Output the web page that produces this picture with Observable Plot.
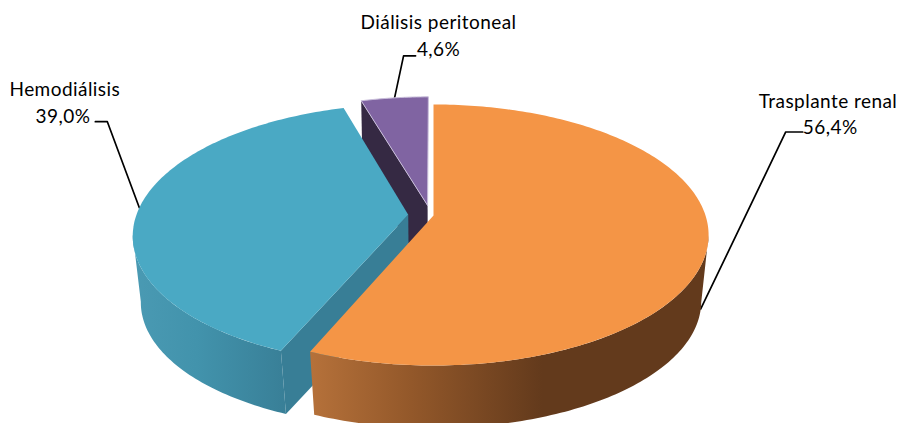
<!DOCTYPE html>
<html lang="es">
<head>
<meta charset="utf-8">
<style>html,body{margin:0;padding:0;background:#fff}svg{display:block}</style>
<script src="https://cdn.jsdelivr.net/npm/d3@7"></script>
<script src="https://cdn.jsdelivr.net/npm/@observablehq/plot@0.6"></script>
</head>
<body>
<div id="chart"></div>
<script>
// Data
const categories = ["Trasplante renal", "Hemodiálisis", "Diálisis peritoneal"];
const shares = [56.4, 39.0, 4.6];

// Slice styling
const topColors = ["#f49546", "#4aa9c4", "#8064a2"];
const wallFills = ["url(#wallOrange)", "url(#wallBlue)", "none"];
const faceColors = ["none", "#387e96", "#352943"];
const explodeU = [0, -0.093, -0.022];
const explodeV = [0, 0.005, 0.08];
const wallStart = [98.6, null, null];
const wallEnd = [null, 261.4, null];

// Label layout (offsets from the rim anchor of each slice)
const elbowDx = [85, -32, 9];
const elbowDy = [-177, -86, -42];
const stubDx = [17, -12, 12];
const nameDx = [-44, -30.5, 23];
const nameDy = [-30, -32, -33];
const pctDx = [0, -5, 23];
const pctDy = [-4, -5, -6];
const pctAnchor = ["start", "end", "middle"];
const nameAnchor = ["start", "middle", "middle"];

// Projection of the pie disc
const W = 902, H = 423;
const topPlane = {cx: 433, cy: 215, a: 272, b: 127.6, k: 0.1494};
const basePlane = {cx: 433, cy: 283, a: 265, b: 124, k: 0.142};
const project = (p, u, v) => {
  const d = 1 + p.k * v;
  return {x: p.cx + p.a * u / d, y: p.cy - p.b * v / d};
};

// Angles in degrees clockwise from the top, starting at 0
let acc = 0;
const slices = categories.map((name, i) => {
  const start = acc * 3.6;
  acc += shares[i];
  return {name, share: shares[i], i, start, end: acc * 3.6, mid: (start + acc * 3.6) / 2};
});

const rim = (plane, s, deg) => {
  const t = deg * Math.PI / 180;
  return project(plane, explodeU[s.i] + Math.sin(t), explodeV[s.i] + Math.cos(t));
};
const center = (plane, s) => project(plane, explodeU[s.i], explodeV[s.i]);
const arc = (plane, s, from, to) => {
  const n = Math.max(2, Math.ceil(Math.abs(to - from)));
  return d3.range(n + 1).map(j => rim(plane, s, from + (to - from) * j / n));
};

const face = (points, fill, extra = {}) =>
  Plot.line(points, {x: "x", y: "y", fill, stroke: "none", curve: "linear", ...extra});

// Gradients for the outer walls
const defs = () => {
  const d = d3.create("svg:defs");
  const grad = (id, x1, x2, stops) => {
    const g = d.append("linearGradient").attr("id", id).attr("gradientUnits", "userSpaceOnUse")
      .attr("x1", x1).attr("x2", x2).attr("y1", 0).attr("y2", 0);
    stops.forEach(([o, c]) => g.append("stop").attr("offset", o).attr("stop-color", c));
  };
  grad("wallOrange", 311, 709, [[0, "#b5713a"], [0.25, "#93582a"], [0.58, "#633a1c"], [1, "#633a1c"]]);
  grad("wallBlue", 133, 290, [[0, "#4a9ab3"], [0.4, "#4293ac"], [1, "#387e96"]]);
  return d.node();
};

const marks = [defs];

// Leader lines, behind the pie
const anchors = slices.map(s =>
  s.i === 0 ? rim(basePlane, s, s.mid) : rim(topPlane, s, s.mid));
const labels = slices.map(s => {
  const a = anchors[s.i];
  const ex = a.x + elbowDx[s.i], ey = a.y + elbowDy[s.i];
  return {s, a, ex, ey, sx: ex + stubDx[s.i]};
});
labels.forEach(l => {
  marks.push(Plot.line(
    [{x: l.a.x, y: l.a.y}, {x: l.ex, y: l.ey}, {x: l.sx, y: l.ey}],
    {x: "x", y: "y", stroke: "#000", strokeWidth: 1.7, curve: "linear"}));
});

// Slices, back to front: peritoneal, hemodialysis, transplant
[slices[2], slices[1], slices[0]].forEach(s => {
  const i = s.i;
  if (wallFills[i] !== "none") {
    const from = wallStart[i] ?? s.start, to = wallEnd[i] ?? s.end;
    marks.push(face([...arc(topPlane, s, from, to), ...arc(basePlane, s, to, from)], wallFills[i]));
  }
  if (faceColors[i] !== "none") {
    marks.push(face([rim(topPlane, s, s.start), center(topPlane, s), center(basePlane, s), rim(basePlane, s, s.start)], faceColors[i]));
  }
  marks.push(face([center(topPlane, s), ...arc(topPlane, s, s.start, s.end), center(topPlane, s)], topColors[i],
    i === 2 ? {stroke: "#c9bedb", strokeWidth: 1} : {}));
});

// Labels
const font = {fontFamily: "Lato, Carlito, sans-serif", fontSize: 19, fill: "#000", stroke: "none", lineAnchor: "middle"};
labels.forEach(l => {
  const i = l.s.i;
  marks.push(Plot.text([l.s.name], {x: () => l.sx + nameDx[i], y: () => l.ey + nameDy[i], text: d => d, textAnchor: nameAnchor[i], ...font}));
  marks.push(Plot.text([l.s.share], {x: () => l.sx + pctDx[i], y: () => l.ey + pctDy[i], text: d => d.toFixed(1).replace(".", ",") + "%", textAnchor: pctAnchor[i], ...font}));
});

const chart = Plot.plot({
  width: W, height: H,
  margin: 0,
  x: {domain: [0, W], range: [0, W], axis: null},
  y: {domain: [0, H], range: [0, H], axis: null},
  style: {background: "#fff", letterSpacing: "0.45px"},
  marks
});
document.getElementById("chart").append(chart);
</script>
</body>
</html>
